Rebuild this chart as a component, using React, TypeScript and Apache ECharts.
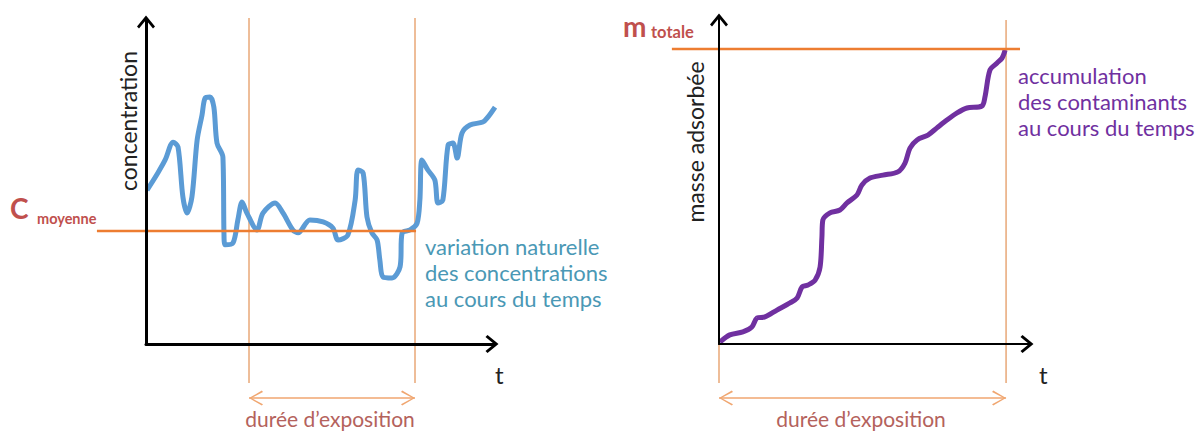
import React, { useEffect, useRef } from "react";
import * as echarts from "echarts";

// ---- Left panel: concentration over time ----
const concTime = [0.3, 3.4, 5.5, 7.8, 9.2, 10.6, 11.8, 13.2, 14.7, 16.1, 17.0, 18.4, 19.5, 20.4, 22.1, 22.4, 22.7, 25.0, 26.4, 27.6, 29.0, 31.9, 33.6, 37.1, 39.4, 42.2, 43.7, 47.1, 50.9, 53.7, 55.2, 58.0, 60.1, 60.9, 62.4, 63.5, 64.9, 66.4, 67.2, 68.1, 70.7, 73.0, 73.6, 75.9, 77.9, 78.7, 79.3, 81.0, 83.0, 83.9, 85.3, 86.8, 88.2, 89.4, 90.8, 93.1, 96.8, 98.3, 100.3];
const concValue = [47.5, 52.8, 56.8, 62.3, 60.8, 45.4, 40.4, 45.4, 63.0, 70.7, 75.9, 76.2, 73.1, 62.0, 57.7, 34.3, 30.6, 31.2, 38.3, 43.8, 40.4, 35.2, 40.4, 43.5, 40.4, 35.2, 34.3, 38.3, 37.7, 35.8, 32.1, 33.6, 44.4, 53.7, 52.8, 39.2, 34.3, 32.1, 25.9, 20.7, 20.4, 23.8, 34.3, 35.2, 37.3, 44.4, 56.8, 53.7, 50.6, 43.5, 44.4, 61.4, 62.0, 57.4, 65.1, 67.6, 68.5, 70.1, 73.1];
const cMoyenne = 34.9;
const cMoyenneSpan = [-14.1, 77.6];
const exposureLeft = [29.6, 77.3];

// ---- Right panel: absorbed mass over time ----
const massTime = [0.3, 3.5, 7.7, 10.6, 12.3, 14.8, 18.7, 22.9, 25.2, 26.8, 28.7, 31.0, 32.6, 33.2, 33.5, 35.8, 39.0, 41.3, 44.5, 46.1, 48.7, 52.9, 57.7, 60.0, 61.6, 63.9, 67.4, 70.3, 73.5, 76.8, 80.0, 84.8, 85.8, 87.4, 89.7, 91.3, 92.3];
const massValue = [0.6, 2.8, 3.7, 5.2, 8.0, 8.3, 10.4, 12.6, 14.1, 17.5, 18.1, 19.6, 23.6, 32.8, 38.0, 40.2, 41.1, 43.3, 45.7, 48.8, 50.9, 51.8, 52.8, 55.5, 60.1, 62.6, 64.1, 66.3, 68.7, 70.9, 72.4, 73.0, 75.8, 84.0, 86.2, 87.7, 90.2];
const mTotale = 90.5;
const mTotaleSpan = [-15.2, 97.1];
const exposureRight = [0, 92.6];

// vertical extent of the exposure markers and arrow level (axis units)
const markerTop = [100.6, 99.4];
const markerBottom = -12;
const arrowLevel = [-16.7, -16.6];

// overlay axis extents (same scale as the visible axes, wider range)
const overlayX = [-20, 110];
const overlayY = [-20, 105];

const FONT = "Lato, 'Noto Sans', sans-serif";
const ORANGE = "#ED7D31";
const ORANGE_THIN = "#E59A62";
const ORANGE_ARROW = "#F0A670";
const RED_LABEL = "#C0504D";
const DUREE_COLOR = "#B4625C";

const AXIS_CHEVRON = "path://M9,0L18,11L16,13L9,4.5L2,13L0,11Z";
const LEFT_CHEVRON = "path://M13,0L14.2,1.3L2.4,7.5L14.2,13.7L13,15L0,7.5Z";
const RIGHT_CHEVRON = "path://M1.2,0L0,1.3L11.8,7.5L0,13.7L1.2,15L14.2,7.5Z";

const zip = (xs: number[], ys: number[]) => xs.map((x, i) => [x, ys[i]]);

function makeAxes(gridIndex: number, width: number) {
  const x = {
    type: "value",
    gridIndex,
    min: 0,
    max: 100,
    z: 5,
    axisLine: {
      show: true,
      onZero: false,
      symbol: ["none", AXIS_CHEVRON],
      symbolSize: [18, 13],
      symbolOffset: [0, -2],
      lineStyle: { color: "#000", width },
    },
    axisTick: { show: false },
    axisLabel: { show: false },
    splitLine: { show: false },
  };
  const y = { ...x, axisLine: { ...x.axisLine } };
  return { x, y };
}

function hiddenAxis(gridIndex: number, range: number[]) {
  return {
    type: "value",
    gridIndex,
    min: range[0],
    max: range[1],
    show: false,
    axisLine: { show: false },
    axisTick: { show: false },
    axisLabel: { show: false },
    splitLine: { show: false },
  };
}

function vLine(xi: number, xv: number, top: number, bottom: number) {
  return {
    type: "line",
    xAxisIndex: xi,
    yAxisIndex: xi,
    symbol: "none",
    silent: true,
    z: 1,
    lineStyle: { color: ORANGE_THIN, width: 1.3 },
    data: [
      [xv, top],
      [xv, bottom],
    ],
  };
}

function hLine(xi: number, yv: number, span: number[]) {
  return {
    type: "line",
    xAxisIndex: xi,
    yAxisIndex: xi,
    symbol: "none",
    silent: true,
    z: 3,
    lineStyle: { color: ORANGE, width: 2.5 },
    data: [
      [span[0], yv],
      [span[1], yv],
    ],
  };
}

function doubleArrow(xi: number, span: number[], level: number) {
  return {
    type: "line",
    xAxisIndex: xi,
    yAxisIndex: xi,
    silent: true,
    z: 1,
    lineStyle: { color: ORANGE_ARROW, width: 1.5 },
    itemStyle: { color: ORANGE_ARROW },
    symbolSize: [14, 15],
    data: [
      { value: [span[0], level], symbol: LEFT_CHEVRON, symbolOffset: [7, 0] },
      { value: [span[1], level], symbol: RIGHT_CHEVRON, symbolOffset: [-7, 0] },
    ],
  };
}

export default function App() {
  const ref = useRef<HTMLDivElement>(null);

  useEffect(() => {
    if (!ref.current) return;
    const chart = echarts.init(ref.current, undefined, { renderer: "svg" });
    const a0 = makeAxes(0, 3);
    const a1 = makeAxes(1, 2);

    // visible panels
    const L = { left: 146, top: 20, w: 348, h: 324 };
    const R = { left: 719, top: 18, w: 310, h: 326 };
    const overlayGrid = (g: any) => {
      const sx = g.w / 100;
      const sy = g.h / 100;
      return {
        left: g.left + overlayX[0] * sx,
        top: g.top - (overlayY[1] - 100) * sy,
        width: (overlayX[1] - overlayX[0]) * sx,
        height: (overlayY[1] - overlayY[0]) * sy,
      };
    };

    const text = (t: string, x: number, y: number, size: number, color: string, extra: any = {}) => ({
      type: "text",
      x,
      y,
      silent: true,
      ...extra,
      style: {
        text: t,
        fontFamily: FONT,
        fontSize: size,
        fill: color,
        textAlign: extra.align || "left",
        textVerticalAlign: "middle",
        fontWeight: extra.weight || "normal",
      },
    });

    chart.setOption({
      animation: false,
      backgroundColor: "#fff",
      grid: [
        { left: L.left, top: L.top, width: L.w, height: L.h },
        { left: R.left, top: R.top, width: R.w, height: R.h },
        overlayGrid(L),
        overlayGrid(R),
      ],
      xAxis: [a0.x, a1.x, hiddenAxis(2, overlayX), hiddenAxis(3, overlayX)],
      yAxis: [a0.y, a1.y, hiddenAxis(2, overlayY), hiddenAxis(3, overlayY)],
      series: [
        vLine(2, exposureLeft[0], markerTop[0], markerBottom),
        vLine(2, exposureLeft[1], markerTop[0], markerBottom),
        doubleArrow(2, exposureLeft, arrowLevel[0]),
        {
          type: "line",
          xAxisIndex: 0,
          yAxisIndex: 0,
          clip: false,
          symbol: "none",
          smooth: 0.3,
          z: 2,
          lineStyle: { color: "#5B9BD5", width: 5 },
          data: zip(concTime, concValue),
        },
        hLine(2, cMoyenne, cMoyenneSpan),
        vLine(3, exposureRight[0], 0, markerBottom),
        vLine(3, exposureRight[1], markerTop[1], markerBottom),
        doubleArrow(3, exposureRight, arrowLevel[1]),
        {
          type: "line",
          xAxisIndex: 1,
          yAxisIndex: 1,
          clip: false,
          symbol: "none",
          smooth: 0.3,
          z: 2,
          lineStyle: { color: "#7030A0", width: 5 },
          data: zip(massTime, massValue),
        },
        hLine(3, mTotale, mTotaleSpan),
      ],
      graphic: [
        text("C", 10, 208, 28, RED_LABEL, { weight: "bold" }),
        text("moyenne", 37, 218, 14.5, RED_LABEL, { weight: "bold" }),
        text("concentration", 128, 121, 23, "#222", { rotation: Math.PI / 2, align: "center" }),
        text("t", 495, 374, 24, "#222"),
        text("variation naturelle", 425, 246, 22, "#4A98B5"),
        text("des concentrations", 425, 272, 22, "#4A98B5"),
        text("au cours du temps", 425, 298, 22, "#4A98B5"),
        text("durée d’exposition", 330, 418, 21, DUREE_COLOR, { align: "center" }),
        text("m", 623, 26, 28, RED_LABEL, { weight: "bold" }),
        text("totale", 651, 32, 16.5, RED_LABEL, { weight: "bold" }),
        text("masse adsorbée", 695, 142, 23, "#222", { rotation: Math.PI / 2, align: "center" }),
        text("t", 1039, 374, 24, "#222"),
        text("accumulation", 1018, 75, 22, "#7030A0"),
        text("des contaminants", 1018, 101, 22, "#7030A0"),
        text("au cours du temps", 1018, 127, 22, "#7030A0"),
        text("durée d’exposition", 861, 418, 21, DUREE_COLOR, { align: "center" }),
      ],
    });
    return () => chart.dispose();
  }, []);

  return (
    <div
      ref={ref}
      style={{ position: "absolute", left: 0, top: 0, width: 1203, height: 432, background: "#fff" }}
    />
  );
}
